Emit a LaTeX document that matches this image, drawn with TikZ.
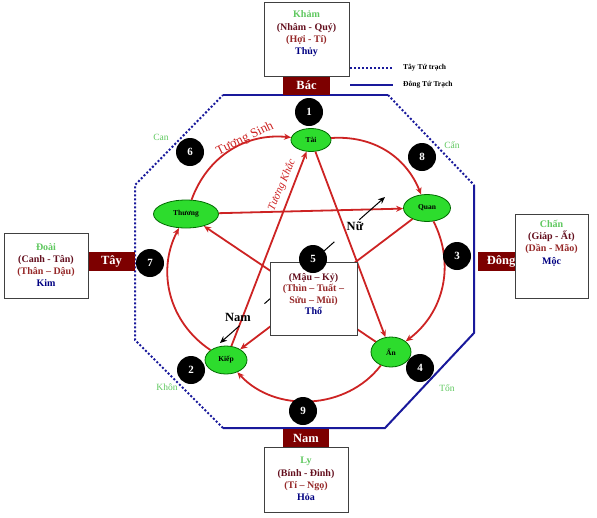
\documentclass[tikz,border=0pt]{standalone}
\usepackage{fontspec}
\setmainfont{Liberation Serif}
\usepackage{tikz}
\usetikzlibrary{shapes.geometric, arrows.meta, positioning, calc}
\definecolor{fengred}{RGB}{205, 35, 35}
\definecolor{wallblue}{RGB}{25, 25, 155}
\definecolor{dirmaroon}{RGB}{125, 0, 0}
\definecolor{elemgreen}{RGB}{45, 220, 45}
\definecolor{elemborder}{RGB}{0, 105, 0}
\definecolor{trigramgreen}{RGB}{95, 200, 95}
\definecolor{textbrown}{RGB}{100, 15, 30}
\definecolor{textred}{RGB}{150, 40, 40}
\definecolor{textnavy}{RGB}{0, 0, 130}

\begin{document}
\begin{tikzpicture}[x=1pt, y=-1pt,
    element/.style={ellipse, draw=elemborder, fill=elemgreen, line width=0.8pt, inner sep=0pt, font=\bfseries\fontsize{7.5}{8}\selectfont},
    badge/.style={circle, fill=black, text=white, minimum size=28pt, inner sep=0pt, font=\bfseries\fontsize{11}{12}\selectfont},
    dirbox/.style={fill=dirmaroon, text=white, minimum height=19pt, inner sep=0pt, font=\bfseries\fontsize{12.5}{13}\selectfont},
    infobox/.style={draw=black!75, fill=white, line width=0.8pt, inner sep=0pt},
    infotext/.style={align=center, inner sep=0pt, font=\bfseries\fontsize{10}{12.3}\selectfont},
    trigram/.style={text=trigramgreen, font=\fontsize{9.5}{10}\selectfont},
    sinharrow/.style={fengred, line width=1.8pt, -{Stealth[length=7pt, width=6pt]}},
    westwall/.style={wallblue, line width=2pt, dash pattern=on 2pt off 2pt},
    eastwall/.style={wallblue, line width=2pt}
]
    \useasboundingbox (0,0) rectangle (597,517);

    % Octagon of the house: dotted for the west group, solid for the east group
    \coordinate (o1) at (223,95);
    \coordinate (o2) at (388,95);
    \coordinate (o3) at (474,185);
    \coordinate (o4) at (474,333);
    \coordinate (o5) at (385,428);
    \coordinate (o6) at (223,428);
    \coordinate (o7) at (135,340);
    \coordinate (o8) at (135,185);
    \draw[eastwall] (o1) -- (o2);
    \draw[westwall] (o2) -- (o3);
    \draw[eastwall] (o3) -- (o4) -- (o5) -- (o6);
    \draw[westwall] (o6) -- (o7) -- (o8) -- (o1);

    % Legend
    \draw[westwall] (350,68) -- (393,68);
    \draw[eastwall] (350,85) -- (393,85);
    \node[anchor=west, inner sep=0pt, font=\bfseries\fontsize{7.5}{8}\selectfont] (legendwest) at (403,68) {Tây Tứ trạch};
    \node[anchor=west, inner sep=0pt, font=\bfseries\fontsize{7.5}{8}\selectfont] (legendeast) at (403,85) {Đông Tứ Trạch};

    % Five elements
    \node[element, minimum width=40pt, minimum height=23pt] (tai) at (311,140) {Tài};
    \node[element, minimum width=65pt, minimum height=28pt] (thuong) at (186,214) {Thương};
    \node[element, minimum width=47pt, minimum height=27pt] (quan) at (427,208) {Quan};
    \node[element, minimum width=42pt, minimum height=28pt] (kiep) at (226,360) {Kiếp};
    \node[element, minimum width=40pt, minimum height=30pt] (an) at (391,352) {Ấn};

    % Generating cycle round the circle
    \draw[sinharrow] (thuong) to[bend left=38] (tai);
    \draw[sinharrow] (tai) to[bend left=36] (quan);
    \draw[sinharrow] (quan) to[bend left=40] (an);
    \draw[sinharrow] (an) to[bend left=50] (kiep);
    \draw[sinharrow] (kiep) to[bend left=42] (thuong);

    % Controlling star
    \draw[sinharrow] (tai) -- (an);
    \draw[sinharrow] (an) -- (thuong);
    \draw[sinharrow] (thuong) -- (quan);
    \draw[sinharrow] (quan) -- (kiep);
    \draw[sinharrow] (kiep) -- (tai);

    \node[fengred, rotate=26, font=\fontsize{13}{14}\selectfont] (sinhlabel) at (245,139) {Tương Sinh};
    \node[fengred, rotate=67, font=\itshape\fontsize{11}{12}\selectfont] (khaclabel) at (282,185) {Tương Khắc};

    % Nam - Nu axis
    \coordinate (namtip) at (220,343);
    \coordinate (nutip) at (385,197);
    \draw[{Stealth[length=7pt, width=6pt]}-{Stealth[length=7pt, width=6pt]}, line width=1pt, dash pattern=on 30pt off 33.3pt] (nutip) -- (namtip);
    \node[font=\bfseries\fontsize{12.5}{13}\selectfont] (nam) at (238,317) {Nam};
    \node[font=\bfseries\fontsize{12.5}{13}\selectfont] (nu) at (355,226) {Nữ};

    % Centre palace
    \node[infobox, minimum width=87pt, minimum height=73pt] (centerbox) at (313.5,298.5) {};
    \node[infotext, font=\bfseries\fontsize{10}{11.2}\selectfont] (center) at (313.5,294) {{\color{textbrown}(Mậu – Kỷ)}\\{\color{textred}(Thìn – Tuất –}\\{\color{textred}Sửu – Mùi)}\\{\color{textnavy}Thổ}};

    % Numbered palaces
    \node[badge] (n1) at (309,112) {1};
    \node[badge] (n2) at (191,370) {2};
    \node[badge] (n3) at (457,256) {3};
    \node[badge] (n4) at (420,368) {4};
    \node[badge] (n5) at (313,259) {5};
    \node[badge] (n6) at (190,152) {6};
    \node[badge] (n7) at (150,263) {7};
    \node[badge] (n8) at (422,157) {8};
    \node[badge] (n9) at (303,411) {9};

    % Trigram names round the octagon
    \node[trigram] (can) at (161,137) {Can};
    \node[trigram] (canne) at (452,145) {Cấn};
    \node[trigram] (khon) at (167,387) {Khôn};
    \node[trigram] (ton) at (447,388) {Tốn};

    % Directions
    \node[dirbox, minimum width=47pt] (bac) at (306.5,85.5) {Bác};
    \node[dirbox, minimum width=47pt] (tay) at (111.5,261) {Tây};
    \node[dirbox, minimum width=46pt, anchor=west] (dong) at (478,261) {Đông};
    \node[dirbox, minimum width=46pt] (namdir) at (306,438) {Nam};

    % Outer palaces
    \node[infobox, minimum width=85pt, minimum height=74pt] (khambox) at (306.5,39) {};
    \node[infotext] (kham) at (306.5,34) {{\color{trigramgreen}Khảm}\\{\color{textbrown}(Nhâm - Quý)}\\{\color{textred}(Hợi - Tí)}\\{\color{textnavy}Thủy}};
    \node[infobox, minimum width=84pt, minimum height=65pt] (doaibox) at (46,265.5) {};
    \node[infotext] (doai) at (46,265) {{\color{trigramgreen}Đoài}\\{\color{textbrown}(Canh - Tân)}\\{\color{textred}(Thân – Dậu)}\\{\color{textnavy}Kim}};
    \node[infobox, minimum width=73pt, minimum height=84pt] (chanbox) at (551.5,256) {};
    \node[infotext] (chan) at (551.5,243) {{\color{trigramgreen}Chấn}\\{\color{textbrown}(Giáp - Ất)}\\{\color{textred}(Dần - Mão)}\\{\color{textnavy}Mộc}};
    \node[infobox, minimum width=84pt, minimum height=65pt] (lybox) at (306,479.5) {};
    \node[infotext] (ly) at (306,479) {{\color{trigramgreen}Ly}\\{\color{textbrown}(Bính - Đinh)}\\{\color{textred}(Tí – Ngọ)}\\{\color{textnavy}Hỏa}};

\end{tikzpicture}
\end{document}
